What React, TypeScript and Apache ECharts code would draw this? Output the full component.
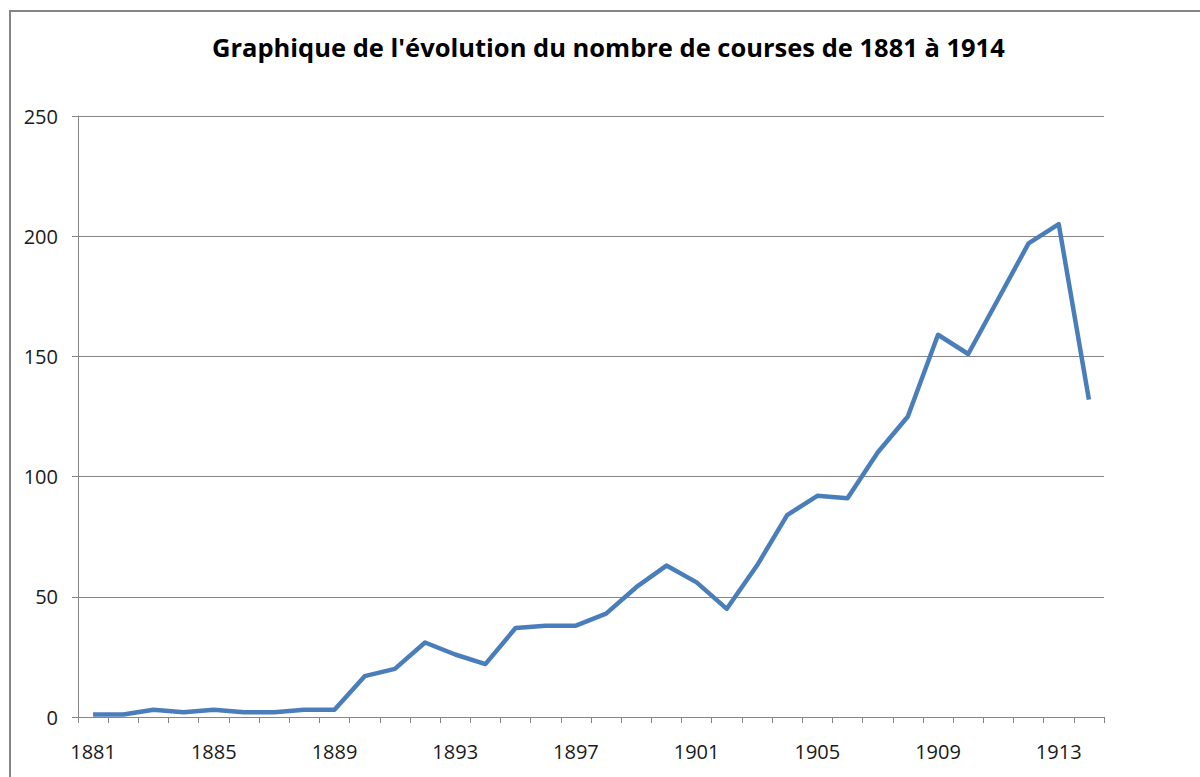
import React, { useEffect, useRef } from "react";
import * as echarts from "echarts";

const years: string[] = [
  "1881", "1882", "1883", "1884", "1885", "1886", "1887", "1888", "1889", "1890",
  "1891", "1892", "1893", "1894", "1895", "1896", "1897", "1898", "1899", "1900",
  "1901", "1902", "1903", "1904", "1905", "1906", "1907", "1908", "1909", "1910",
  "1911", "1912", "1913", "1914",
];
const courses: number[] = [
  1, 1, 3, 2, 3, 2, 2, 3, 3, 17,
  20, 31, 26, 22, 37, 38, 38, 43, 54, 63,
  56, 45, 63, 84, 92, 91, 110, 125, 159, 151,
  174, 197, 205, 132,
];
const titleText = "Graphique de l'évolution du nombre de courses de 1881 à 1914";

export default function App() {
  const ref = useRef<HTMLDivElement>(null);
  useEffect(() => {
    if (!ref.current) return;
    const chart = echarts.init(ref.current, undefined, { renderer: "svg" });
    chart.setOption({
      animation: false,
      backgroundColor: "#ffffff",
      title: {
        text: titleText,
        left: 207,
        top: 29,
        textStyle: {
          fontFamily: "Open Sans",
          fontWeight: "bold",
          fontSize: 25.5,
          color: "#000000",
        },
      },
      graphic: [
        {
          type: "rect",
          shape: { x: 10, y: 11, width: 1200, height: 800 },
          style: { fill: "none", stroke: "#858585", lineWidth: 2 },
          silent: true,
        },
      ],
      grid: { left: 78, right: 96, top: 116, bottom: 60, containLabel: false },
      xAxis: {
        type: "category",
        data: years,
        boundaryGap: true,
        axisLine: { show: true, lineStyle: { color: "#868686", width: 1 } },
        axisTick: { show: true, interval: 0, length: 6, lineStyle: { color: "#868686" } },
        axisLabel: {
          interval: 3,
          margin: 24,
          fontFamily: "Open Sans",
          fontSize: 20,
          color: "#1a1a1a",
        },
        splitLine: { show: false },
      },
      yAxis: {
        type: "value",
        min: 0,
        max: 250,
        interval: 50,
        axisLine: { show: true, lineStyle: { color: "#868686", width: 1 } },
        axisTick: { show: true, length: 6, lineStyle: { color: "#868686" } },
        axisLabel: {
          margin: 20,
          fontFamily: "Open Sans",
          fontSize: 20,
          color: "#1a1a1a",
        },
        splitLine: { show: true, lineStyle: { color: "#868686", width: 1 } },
      },
      series: [
        {
          type: "line",
          data: courses,
          symbol: "none",
          lineStyle: { color: "#4A7EBB", width: 4.5, join: "round" },
          itemStyle: { color: "#4A7EBB" },
        },
      ],
    });
    return () => chart.dispose();
  }, []);
  return <div ref={ref} style={{ width: 1200, height: 777, position: "absolute", left: 0, top: 0 }} />;
}
